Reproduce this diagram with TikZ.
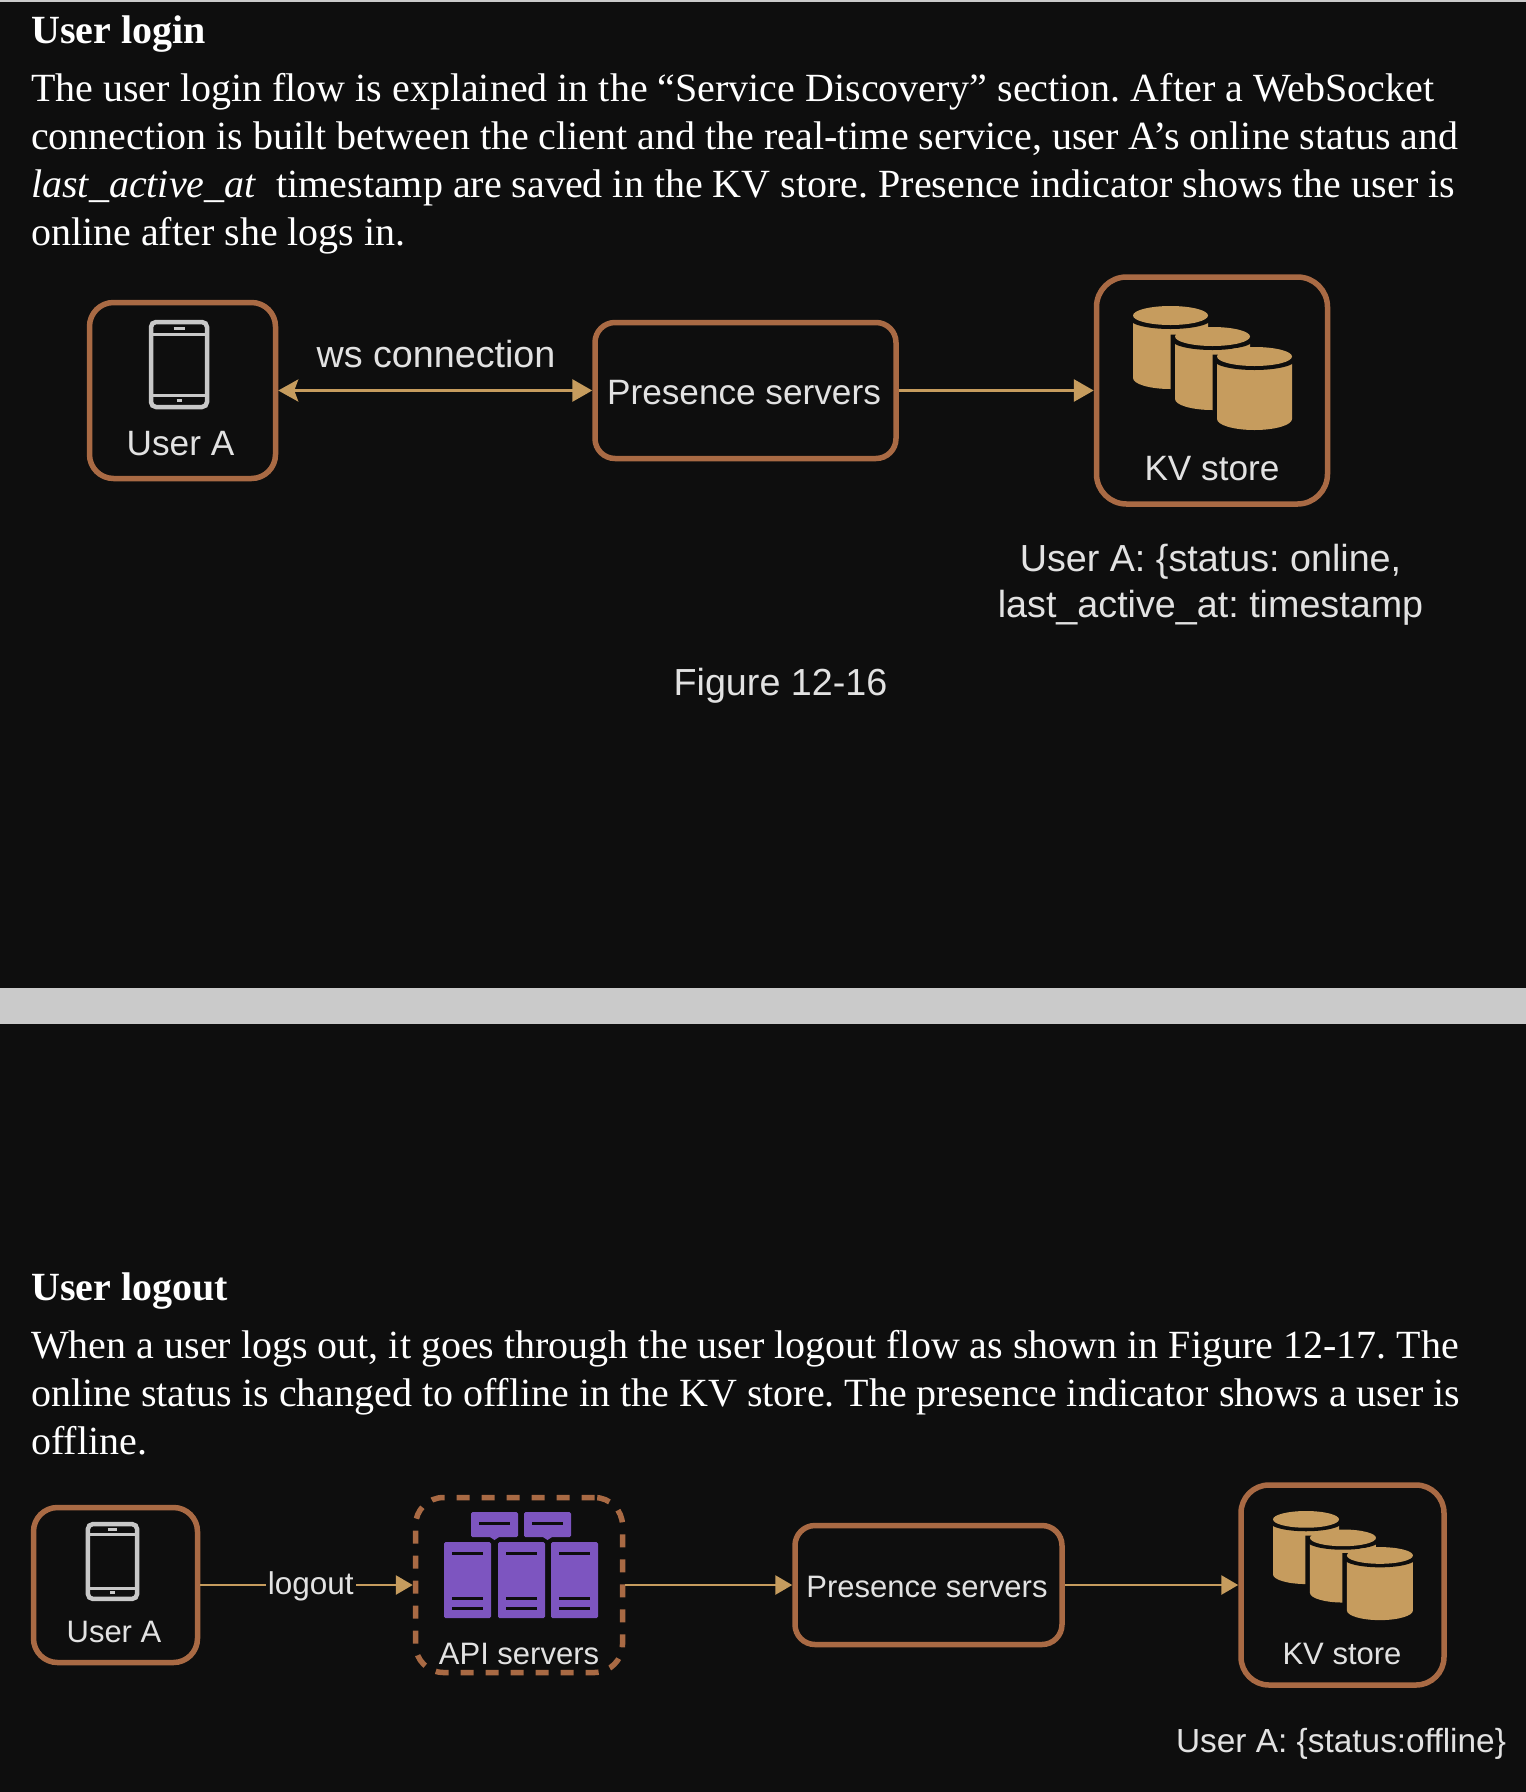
\documentclass[tikz,border=0pt]{standalone}
\usepackage{fontspec}
\setmainfont{Liberation Serif}
\setsansfont{Liberation Sans}
\usetikzlibrary{arrows.meta, positioning}

\definecolor{pagebg}{HTML}{0E0E0E}
\definecolor{bandgray}{HTML}{CACACA}
\definecolor{boxbrown}{HTML}{A96A44}
\definecolor{linktan}{HTML}{C69C5E}
\definecolor{rackpurple}{HTML}{7D55C0}
\definecolor{phonegray}{HTML}{C8C8C8}
\definecolor{labelgray}{HTML}{E2E2E2}

\tikzset{
    box/.style={draw=boxbrown, line width=5.5pt, rounded corners=24pt, inner sep=0pt},
    apibox/.style={box, dash pattern=on 13pt off 12pt, rounded corners=28pt},
    boxlabel/.style={text=labelgray, inner sep=0pt, font=\sffamily\fontsize{35.2}{42}\selectfont},
    smalllabel/.style={boxlabel, font=\sffamily\fontsize{31}{37}\selectfont},
    freelabel/.style={text=labelgray, inner sep=0pt, align=center, font=\sffamily\fontsize{37.7}{46}\selectfont},
    link/.style={draw=linktan, line width=3pt, -{Triangle[length=20pt, width=22pt]}},
    smalllink/.style={draw=linktan, line width=2.8pt, -{Triangle[length=17pt, width=19pt]}},
    bodyline/.style={anchor=base west, inner sep=0pt, text=white, font=\rmfamily\fontsize{40}{48}\selectfont},
    headline/.style={anchor=base west, inner sep=0pt, text=white, font=\rmfamily\bfseries\fontsize{40}{48}\selectfont},
    phoneicon/.pic={
        \draw[phonegray, line width=4.5pt, rounded corners=5pt] (-28,-42.5) rectangle (28,42.5);
        \draw[phonegray, line width=3pt] (-28,-30.5) -- (28,-30.5) (-28,30.5) -- (28,30.5);
        \draw[phonegray, line width=3pt] (-5.5,-36) -- (5.5,-36) (-2.5,35.5) -- (2.5,35.5);
    },
    kvstack/.pic={
        \foreach \dx/\dy in {0/0, 42/21, 84/41} {
            \begin{scope}[shift={(\dx,\dy)}]
                \path[draw=pagebg, line width=9pt, fill=pagebg] (0,12) -- (0,72) arc[start angle=180, end angle=0, x radius=37.5, y radius=11] -- (75,12) -- cycle;
                \fill[linktan] (0,12) -- (0,72) arc[start angle=180, end angle=0, x radius=37.5, y radius=11] -- (75,12) -- cycle;
                \fill[pagebg] (37.5,13) ellipse [x radius=41, y radius=10];
                \fill[linktan] (37.5,9.5) ellipse [x radius=37.5, y radius=9.5];
            \end{scope}
        }
    },
}

\begin{document}
\frenchspacing
\begin{tikzpicture}[x=1pt, y=-1pt]
    \useasboundingbox (0,0) rectangle (1526,1792);
    \fill[pagebg] (0,0) rectangle (1526,1792);
    \fill[bandgray] (0,0) rectangle (1526,2);
    \fill[bandgray] (0,988) rectangle (1526,1024);

    % login text
    \node[headline] (logintitle) at (31,43) {User login};
    \node[bodyline] (loginone) at (31,101) {The user login flow is explained in the “Service Discovery” section. After a WebSocket};
    \node[bodyline] (logintwo) at (31,149) {connection is built between the client and the real-time service, user A’s online status and};
    \node[bodyline] (loginthree) at (31,197) {\textit{last\_active\_at}\hspace{20pt}timestamp are saved in the KV store. Presence indicator shows the user is};
    \node[bodyline] (loginfour) at (31,245) {online after she logs in.};

    % login diagram
    \node[box, minimum width=186pt, minimum height=176pt] (usera) at (182.5,390.5) {};
    \pic at (179,364.5) {phoneicon};
    \node[boxlabel] (useralabel) at (180.5,444) {User A};
    \node[box, rounded corners=20pt, minimum width=301pt, minimum height=136pt] (presence) at (745.5,390.5) {};
    \node[boxlabel] (presencelabel) at (744,393) {Presence servers};
    \node[box, rounded corners=30pt, minimum width=231pt, minimum height=227pt] (kv) at (1212,390.5) {};
    \pic at (1133,306) {kvstack};
    \node[boxlabel] (kvlabel) at (1212,469) {KV store};
    \node[freelabel] (kvstate) at (1210.5,584.5) {User A: \{status: online,\\last\_active\_at: timestamp};
    \node[freelabel] (wslabel) at (436,354) {ws connection};
    \node[freelabel] (figlabel) at (780.5,685.5) {Figure 12-16};
    \draw[link, {Stealth[length=20pt, width=22pt, inset=4pt]}-{Triangle[length=20pt, width=22pt]}] (usera) -- (presence);
    \draw[link] (presence) -- (kv);

    % logout text
    \node[headline] (logouttitle) at (31,1300) {User logout};
    \node[bodyline] (logoutone) at (31,1358) {When a user logs out, it goes through the user logout flow as shown in Figure 12-17. The};
    \node[bodyline] (logouttwo) at (31,1406) {online status is changed to offline in the KV store. The presence indicator shows a user is};
    \node[bodyline] (logoutthree) at (31,1454) {offline.};

    % logout diagram
    \node[box, minimum width=164pt, minimum height=155pt] (userb) at (115.5,1585) {};
    \pic[scale=.88] at (112.5,1561.5) {phoneicon};
    \node[smalllabel] (userblabel) at (114,1632) {User A};
    \node[apibox, minimum width=207pt, minimum height=175pt] (api) at (519,1585) {};
    \foreach \ux in {471,524} {
        \fill[rackpurple, rounded corners=1.5pt] (\ux,1512) rectangle +(47,25);
        \fill[rackpurple] (\ux+19,1537) -- (\ux+28,1537) -- (\ux+23.5,1540) -- cycle;
        \draw[pagebg, line width=3pt] (\ux+8,1523) -- +(31,0);
    }
    \foreach \rx in {444,498,551} {
        \fill[rackpurple, rounded corners=1.5pt] (\rx,1542) rectangle +(47,76);
        \foreach \ry in {1553,1598,1608} {
            \draw[pagebg, line width=3pt] (\rx+8,\ry) -- +(31,0);
        }
    }
    \node[smalllabel] (apilabel) at (519,1654) {API servers};
    \node[box, rounded corners=20pt, minimum width=267pt, minimum height=119pt] (presenceb) at (928.5,1585) {};
    \node[smalllabel] (presenceblabel) at (927,1587) {Presence servers};
    \node[box, rounded corners=28pt, minimum width=203pt, minimum height=200pt] (kvb) at (1342.5,1585) {};
    \pic[scale=.88] at (1273,1511) {kvstack};
    \node[smalllabel] (kvblabel) at (1342,1654) {KV store};
    \node[freelabel, font=\sffamily\fontsize{33.4}{40}\selectfont] (kvbstate) at (1341,1743.5) {User A: \{status:offline\}};
    \draw[smalllink] (userb) -- node[pos=.52, yshift=-1pt, fill=pagebg, text=labelgray, inner sep=2pt, font=\sffamily\fontsize{31.5}{38}\selectfont] (logoutlabel) {logout} (api);
    \draw[smalllink] (api) -- (presenceb);
    \draw[smalllink] (presenceb) -- (kvb);
\end{tikzpicture}
\end{document}
